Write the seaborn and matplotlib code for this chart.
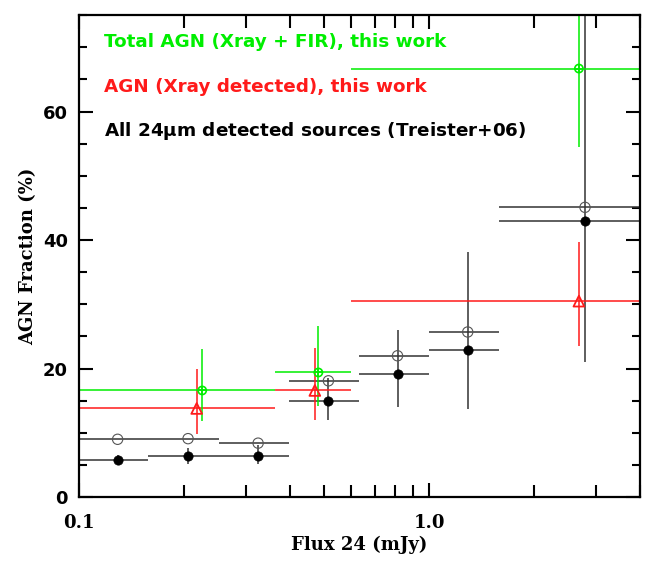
import matplotlib
matplotlib.use("Agg")
import matplotlib.pyplot as plt
import matplotlib.ticker as mticker
import pandas as pd
import seaborn as sns

# Treister+06: all 24um detected sources
t_flux = [0.129, 0.205, 0.325, 0.516, 0.813, 1.29, 2.79]
t_bin_lo = [0.1, 0.158, 0.251, 0.398, 0.631, 1.0, 1.585]
t_bin_hi = [0.158, 0.251, 0.398, 0.631, 1.0, 1.585, 4.0]
t_frac = [5.8, 6.4, 6.4, 15.0, 19.1, 22.9, 42.9]
t_frac_open = [9.0, 9.1, 8.4, 18.1, 22.0, 25.7, 45.1]
t_err_lo = [5.0, 5.1, 5.1, 12.0, 14.0, 13.7, 21.0]
t_err_hi = [6.6, 7.6, 8.1, 18.6, 26.0, 38.2, 80.0]

# AGN (Xray detected), this work
x_flux = [0.217, 0.472, 2.68]
x_frac = [13.8, 16.6, 30.5]
x_err_lo = [9.8, 12.0, 23.5]
x_err_hi = [20.0, 23.2, 39.7]

# Total AGN (Xray + FIR), this work
g_flux = [0.225, 0.483, 2.68]
g_frac = [16.6, 19.4, 66.7]
g_err_lo = [11.9, 14.2, 54.5]
g_err_hi = [23.1, 26.6, 80.0]

# shared bins for this work
w_bin_lo = [0.1, 0.363, 0.6]
w_bin_hi = [0.363, 0.6, 4.0]

GREEN = "#00ee00"
RED = "#ff1a1a"
DARK = "#333333"

sns.set_style("ticks")
plt.rcParams["font.family"] = ["DejaVu Sans"]
plt.rcParams["text.color"] = "black"
plt.rcParams["axes.labelcolor"] = "black"
plt.rcParams["xtick.color"] = "black"
plt.rcParams["ytick.color"] = "black"

fig = plt.figure(figsize=(6.63, 5.63), dpi=100)
ax = fig.add_axes([0.119, 0.117, 0.846, 0.856])
ax.set_xscale("log")


def bars(ax, x, y, lo, hi, ylo, yhi, color):
    xerr = [[a - b for a, b in zip(x, lo)], [b - a for a, b in zip(x, hi)]]
    yerr = [[a - b for a, b in zip(y, ylo)], [b - a for a, b in zip(y, yhi)]]
    ax.errorbar(x, y, xerr=xerr, yerr=yerr, fmt="none", ecolor=color,
                elinewidth=1.1, capsize=0, zorder=2)


t_df = pd.DataFrame({"flux": t_flux, "frac": t_frac, "open": t_frac_open})
x_df = pd.DataFrame({"flux": x_flux, "frac": x_frac})
g_df = pd.DataFrame({"flux": g_flux, "frac": g_frac})

# Treister bars (filled and open share bins)
bars(ax, t_flux, t_frac, t_bin_lo, t_bin_hi, t_err_lo, t_err_hi, DARK)
ax.errorbar(t_flux, t_frac_open,
            xerr=[[a - b for a, b in zip(t_flux, t_bin_lo)],
                  [b - a for a, b in zip(t_flux, t_bin_hi)]],
            fmt="none", ecolor=DARK, elinewidth=1.1, zorder=2)
bars(ax, x_flux, x_frac, w_bin_lo, w_bin_hi, x_err_lo, x_err_hi, RED)
bars(ax, g_flux, g_frac, w_bin_lo, w_bin_hi, g_err_lo, g_err_hi, GREEN)

sns.scatterplot(data=t_df, x="flux", y="frac", ax=ax, color="black", s=45,
                edgecolor="black", linewidth=0.5, zorder=4)
sns.scatterplot(data=t_df, x="flux", y="open", ax=ax, facecolor="none",
                edgecolor="#555555", s=55, linewidth=0.8, zorder=4)
sns.scatterplot(data=x_df, x="flux", y="frac", ax=ax, marker="^", facecolor="none",
                edgecolor=RED, s=60, linewidth=1.3, zorder=4)
sns.scatterplot(data=g_df, x="flux", y="frac", ax=ax, marker="o", facecolor="none",
                edgecolor=GREEN, s=35, linewidth=1.2, zorder=4)
sns.scatterplot(data=g_df, x="flux", y="frac", ax=ax, marker="+", color=GREEN,
                s=35, linewidth=1.2, zorder=5)

ax.set_xlim(0.1, 4.0)
ax.set_ylim(0, 75)
ax.xaxis.set_major_locator(mticker.FixedLocator([0.1, 1.0]))
ax.xaxis.set_major_formatter(mticker.FixedFormatter(["0.1", "1.0"]))
ax.xaxis.set_minor_locator(mticker.LogLocator(base=10, subs=range(2, 10)))
ax.xaxis.set_minor_formatter(mticker.NullFormatter())
ax.yaxis.set_major_locator(mticker.MultipleLocator(20))
ax.yaxis.set_minor_locator(mticker.MultipleLocator(5))

ax.tick_params(which="both", direction="in", top=True, right=True, width=1.5,
               color="black", labelcolor="black")
ax.tick_params(which="major", length=10)
ax.tick_params(axis="y", which="major", pad=8)
ax.tick_params(axis="x", which="major", pad=12)
ax.tick_params(which="minor", length=6)
ax.tick_params(axis="x", which="minor", length=9)
for s in ax.spines.values():
    s.set_linewidth(1.6)
    s.set_color("black")

for lab in ax.get_yticklabels():
    lab.set_fontsize(13)
    lab.set_fontweight("bold")
for lab in ax.get_xticklabels():
    lab.set_fontsize(13)
    lab.set_family("DejaVu Serif")
    lab.set_fontweight("bold")

ax.set_xlabel("Flux 24 (mJy)", fontsize=13, family="DejaVu Serif",
              fontweight="bold", labelpad=3, color="black")
ax.set_ylabel("AGN Fraction (%)", fontsize=13, family="DejaVu Serif",
              fontweight="bold", labelpad=4, color="black")

ax.text(0.045, 0.945, "Total AGN (Xray + FIR), this work", transform=ax.transAxes,
        color=GREEN, fontsize=13.2, fontweight="bold", va="center")
ax.text(0.045, 0.852, "AGN (Xray detected), this work", transform=ax.transAxes,
        color=RED, fontsize=13.2, fontweight="bold", va="center")
ax.text(0.045, 0.760, r"All 24$\mathbf{\mu}$m detected sources (Treister+06)",
        transform=ax.transAxes, color="black", fontsize=13.2, fontweight="bold",
        va="center")

if ax.get_legend() is not None:
    ax.get_legend().remove()

fig.savefig("out.png", dpi=100)
